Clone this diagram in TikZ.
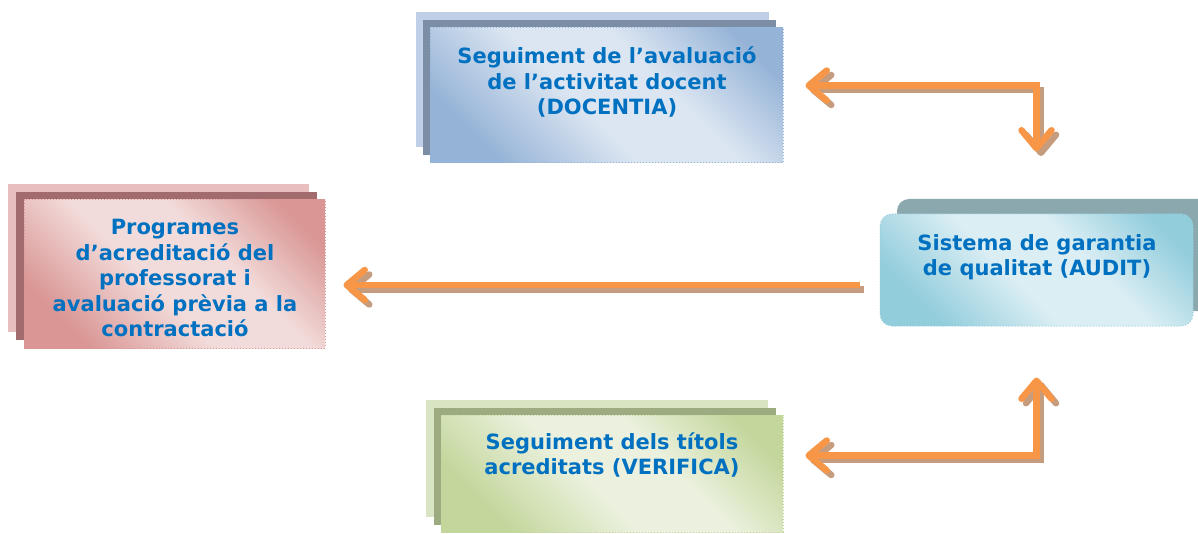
\documentclass[tikz,border=0pt]{standalone}
\usepackage{fontspec}
\setmainfont{DejaVu Sans}
\usetikzlibrary{positioning,shadows,arrows.meta}

\definecolor{txtblue}{HTML}{0070C0}
\definecolor{arroworange}{HTML}{F79646}
\definecolor{arrowshade}{HTML}{C59C7E}
% panel colours
\definecolor{docdark}{HTML}{95B3D7}
\definecolor{doclight}{HTML}{DCE6F2}
\definecolor{docback}{HTML}{BFD0E6}
\definecolor{docmid}{HTML}{7C8DA6}
\definecolor{progdark}{HTML}{D99694}
\definecolor{proglight}{HTML}{F2DCDB}
\definecolor{progback}{HTML}{E8BFBE}
\definecolor{progmid}{HTML}{A26C6E}
\definecolor{auddark}{HTML}{92CDDC}
\definecolor{audlight}{HTML}{DBEEF4}
\definecolor{audback}{HTML}{8CA8AF}
\definecolor{verdark}{HTML}{C3D69B}
\definecolor{verlight}{HTML}{EBF1DE}
\definecolor{verback}{HTML}{D9E5C2}
\definecolor{vermid}{HTML}{9DAB80}

\colorlet{pdark}{docdark}
\colorlet{plight}{doclight}
\pgfdeclarehorizontalshading[pdark,plight]{panelshade}{100bp}{%
  color(0bp)=(pdark); color(25bp)=(pdark); color(45bp)=(plight);
  color(60bp)=(plight); color(78bp)=(pdark); color(100bp)=(pdark)}

\tikzset{
  panel/.style 2 args={rectangle, draw=#1, dotted, line width=1pt,
    /utils/exec={\colorlet{pdark}{#1}\colorlet{plight}{#2}},
    shade, shading=panelshade, shading angle=45, inner sep=0pt},
  panelfont/.style={font=\bfseries\fontsize{21}{25.5}\selectfont,
    text=txtblue, align=center},
  link/.style={draw=arroworange, line width=6.5pt,
    {Straight Barb[length=18pt,width=30pt,round]}-{Straight Barb[length=18pt,width=30pt,round]}},
  onelink/.style={draw=arroworange, line width=6.5pt,
    -{Straight Barb[length=18pt,width=30pt,round]}},
  linkshade/.style={draw=arrowshade, transform canvas={shift={(4.5pt,-4.5pt)}}}
}

\begin{document}
\begin{tikzpicture}[x=1pt,y=-1pt]
  \useasboundingbox (0,0) rectangle (1198,534);

  \node[panel={docdark}{doclight}, minimum width=353pt, minimum height=135pt,
    copy shadow={shadow xshift=-14pt, shadow yshift=16pt, fill=docback, draw=none},
    copy shadow={shadow xshift=-7pt, shadow yshift=8pt, fill=docmid, draw=none}]
    (doc) at (606.5,95.5) {};

  \node[panel={progdark}{proglight}, minimum width=301pt, minimum height=148pt,
    copy shadow={shadow xshift=-16pt, shadow yshift=16pt, fill=progback, draw=none},
    copy shadow={shadow xshift=-8pt, shadow yshift=8pt, fill=progmid, draw=none}]
    (prog) at (174.5,274) {};

  \node[panel={auddark}{audlight}, minimum width=313pt, minimum height=112pt,
    rounded corners=12pt,
    copy shadow={shadow xshift=17pt, shadow yshift=15pt, fill=audback, draw=none}]
    (audit) at (1036.5,270) {};

  \node[panel={verdark}{verlight}, minimum width=342pt, minimum height=117pt,
    copy shadow={shadow xshift=-15pt, shadow yshift=15pt, fill=verback, draw=none},
    copy shadow={shadow xshift=-7pt, shadow yshift=7pt, fill=vermid, draw=none}]
    (ver) at (612,473.5) {};

  % texts
  \node[panelfont] (doctext) at (607,82)
    {Seguiment de l’avaluació\\de l’activitat docent\\(DOCENTIA)};
  \node[panelfont] (progtext) at (175,278)
    {Programes\\d’acreditació del\\professorat i\\avaluació prèvia a la\\contractació};
  \node[panelfont] (audittext) at (1037,257)
    {Sistema de garantia\\de qualitat (AUDIT)};
  \node[panelfont] (vertext) at (612,455)
    {Seguiment dels títols\\acreditats (VERIFICA)};

  % arrows
  \draw[link, linkshade, shorten <=22pt, shorten >=62pt]
    ([yshift=10pt]doc.east) -| (audit.north);
  \draw[link, shorten <=22pt, shorten >=62pt]
    ([yshift=10pt]doc.east) -| (audit.north);

  \draw[link, linkshade, shorten <=22pt, shorten >=51pt]
    ([yshift=18pt]ver.east) -| (audit.south);
  \draw[link, shorten <=22pt, shorten >=51pt]
    ([yshift=18pt]ver.east) -| (audit.south);

  \draw[onelink, linkshade, shorten <=20pt, shorten >=18pt]
    ([yshift=-15pt]audit.west) -- ([yshift=-15pt]audit.west -| prog.east);
  \draw[onelink, shorten <=20pt, shorten >=18pt]
    ([yshift=-15pt]audit.west) -- ([yshift=-15pt]audit.west -| prog.east);
\end{tikzpicture}
\end{document}
